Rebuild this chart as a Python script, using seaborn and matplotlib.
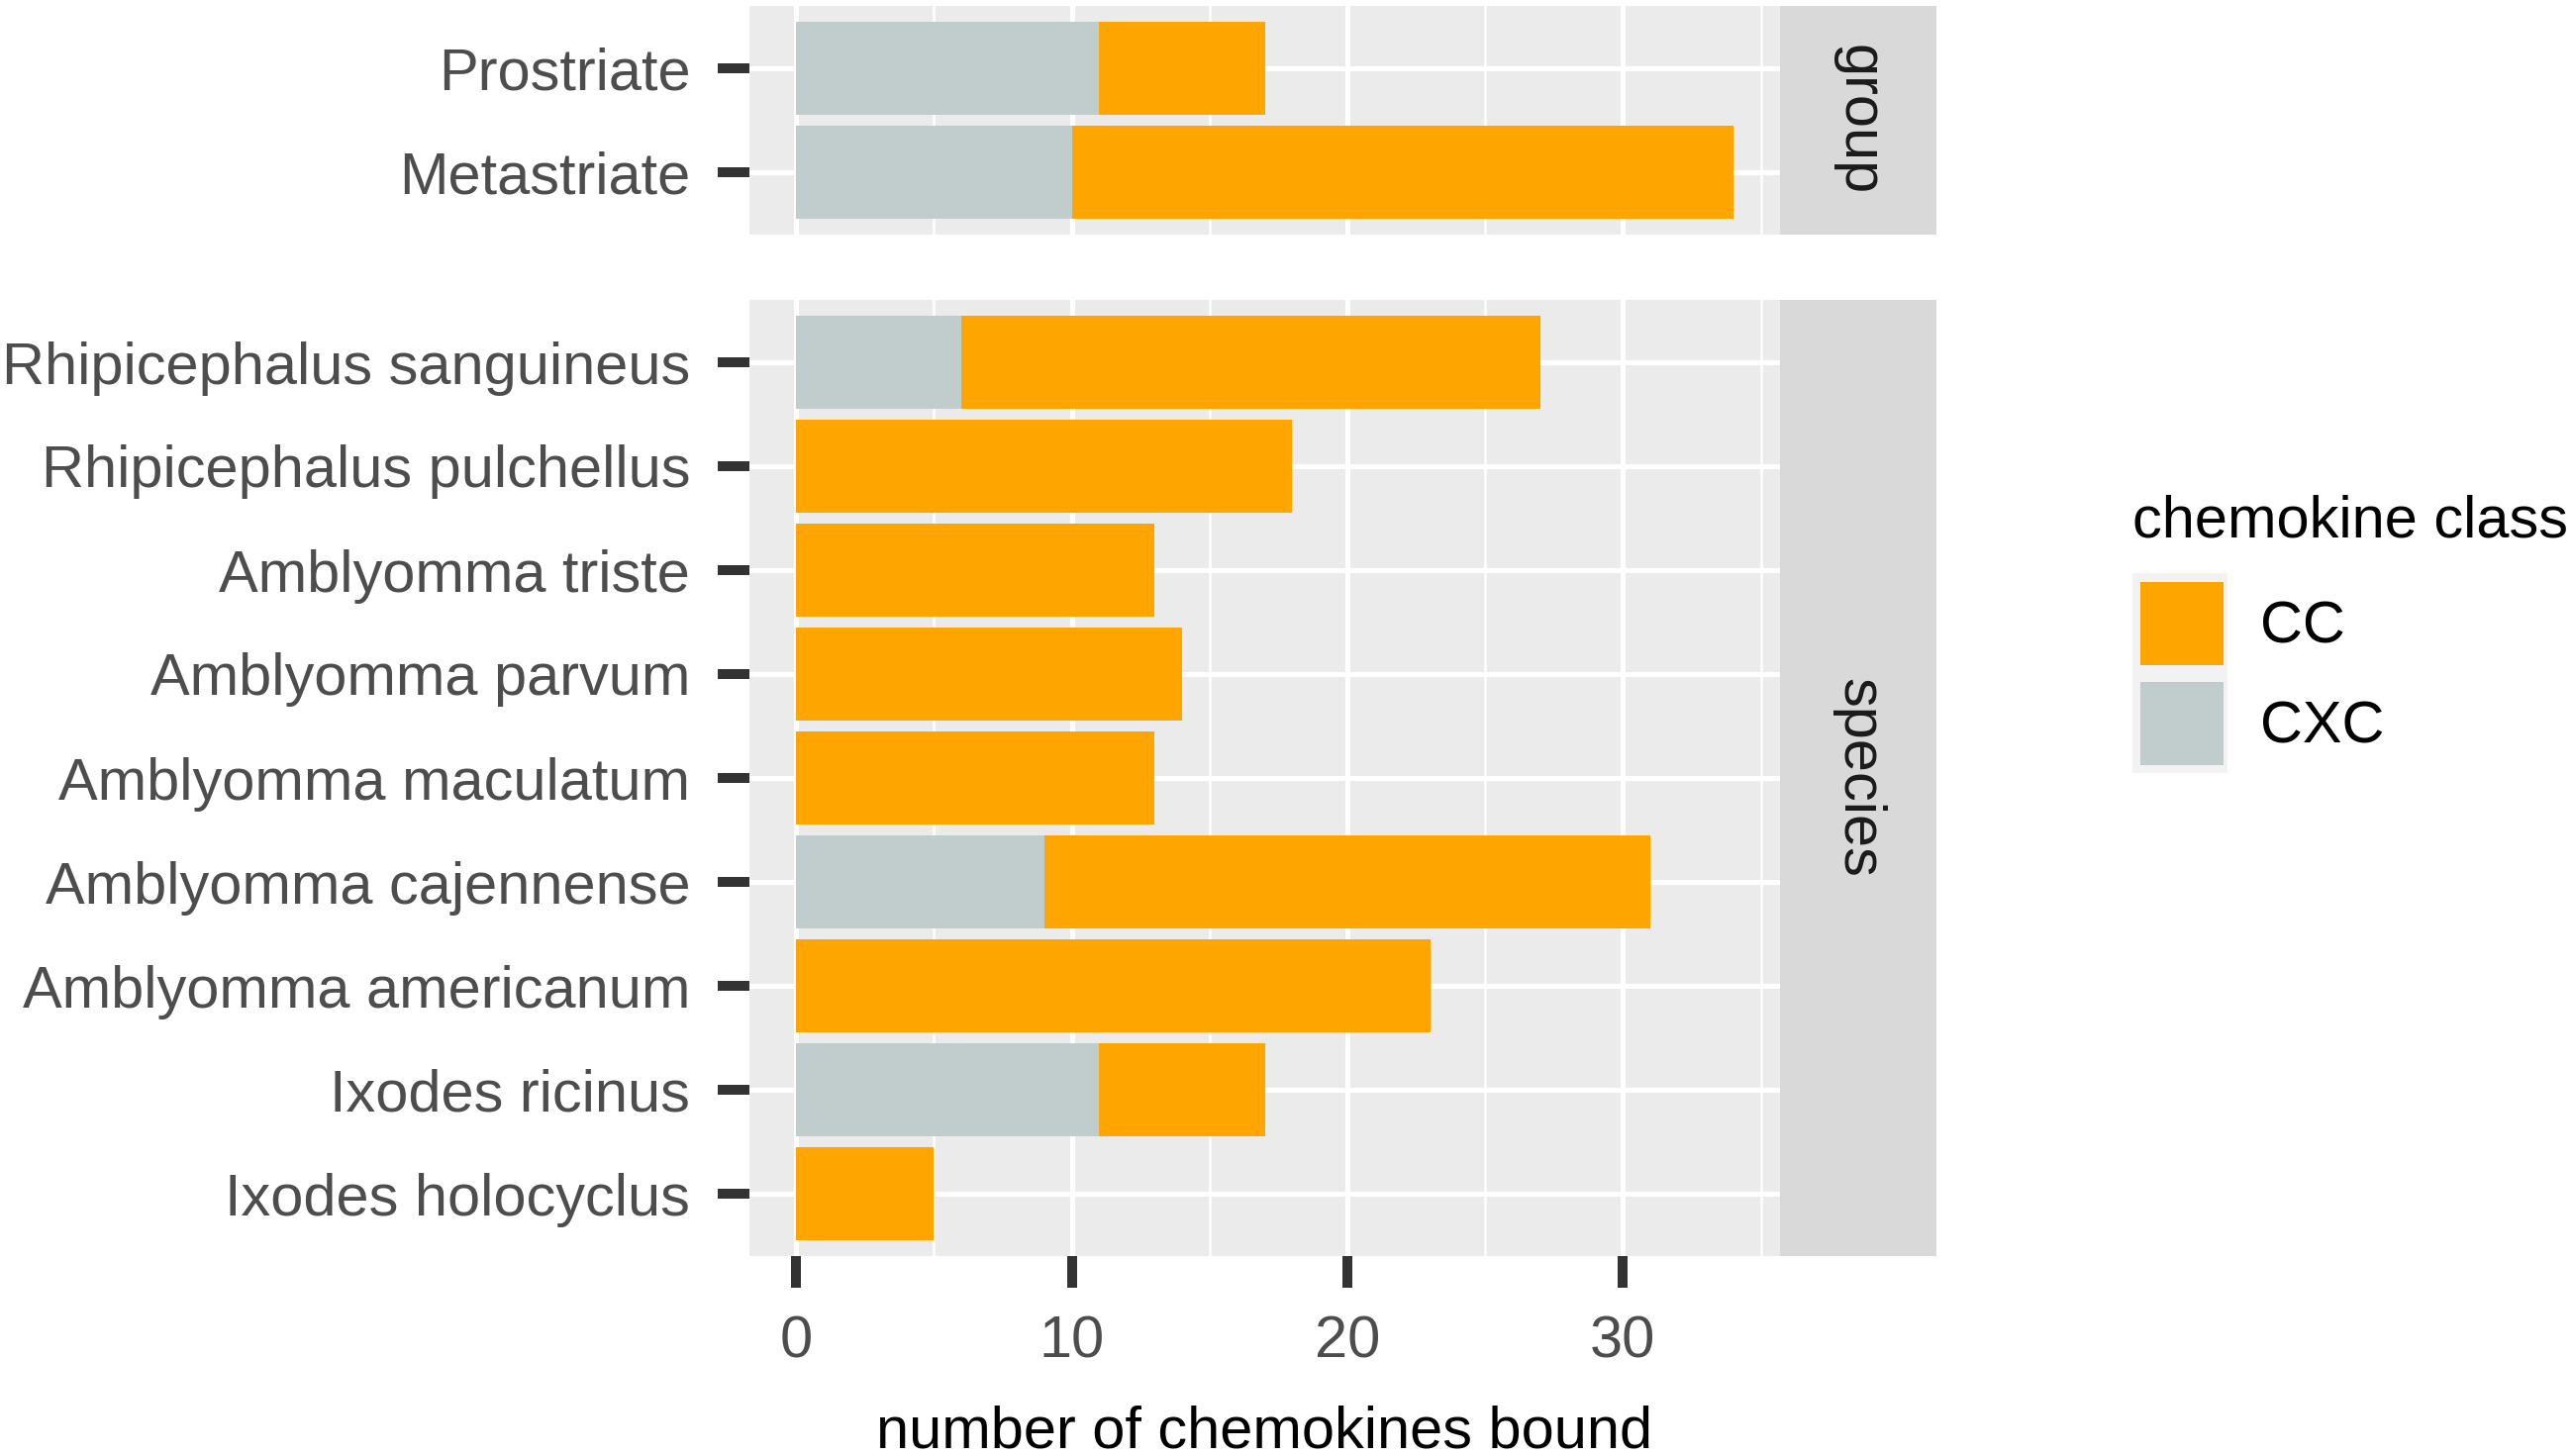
import matplotlib
matplotlib.use("Agg")
import matplotlib.pyplot as plt
from matplotlib.patches import Rectangle
from matplotlib.ticker import MultipleLocator
import seaborn as sns
import pandas as pd

# data, listed top to bottom as shown
group_names = ["Prostriate", "Metastriate"]
group_cxc = [11, 10]
group_cc = [6, 24]

species_names = ["Rhipicephalus sanguineus", "Rhipicephalus pulchellus",
                 "Amblyomma triste", "Amblyomma parvum", "Amblyomma maculatum",
                 "Amblyomma cajennense", "Amblyomma americanum",
                 "Ixodes ricinus", "Ixodes holocyclus"]
species_cxc = [6, 0, 0, 0, 0, 9, 0, 11, 0]
species_cc = [21, 18, 13, 14, 13, 22, 23, 6, 5]

classes = ["CC", "CXC"]
ORANGE = "#FFA500"
GREY = "#C1CDCD"

sns.set_style("darkgrid", {"axes.facecolor": "#EBEBEB", "grid.color": "white"})
plt.rcParams['font.family'] = ['Liberation Sans', 'DejaVu Sans']

FS = 42.8
W, H = 2598, 1471
fig = plt.figure(figsize=(W / 100, H / 100), dpi=100)


def px_axes(x0, y0, x1, y1):
    return fig.add_axes([x0 / W, 1 - y1 / H, (x1 - x0) / W, (y1 - y0) / H])


def draw_panel(ax, names, cc, cxc, show_x):
    df = pd.DataFrame({"name": names, "cc": cc, "cxc": cxc})
    df["total"] = df["cc"] + df["cxc"]
    sns.barplot(data=df, x="total", y="name", color=ORANGE, width=0.9,
                saturation=1, linewidth=0, errorbar=None, ax=ax)
    sns.barplot(data=df, x="cxc", y="name", color=GREY, width=0.9,
                saturation=1, linewidth=0, errorbar=None, ax=ax)
    ax.set_xlim(-1.7, 35.7)
    ax.set_ylim(len(names) - 1 + 0.6, -0.6)
    ax.set_xlabel("")
    ax.set_ylabel("")
    ax.set_axisbelow(True)
    ax.xaxis.set_major_locator(MultipleLocator(10))
    ax.xaxis.set_minor_locator(MultipleLocator(5))
    ax.grid(True, which="major", axis="both", color="white", lw=3.6)
    ax.grid(True, which="minor", axis="x", color="white", lw=1.8)
    for s in ax.spines.values():
        s.set_visible(False)
    ax.tick_params(axis="y", which="major", length=23, width=7.2, color="#333333",
                   labelcolor="#4D4D4D", labelsize=FS, pad=20, left=True)
    ax.tick_params(which="minor", length=0)
    if show_x:
        ax.tick_params(axis="x", which="major", length=23, width=7.2, color="#333333",
                       labelcolor="#4D4D4D", labelsize=FS, pad=20, bottom=True)
    else:
        ax.tick_params(axis="x", which="major", length=0, labelbottom=False)


def draw_strip(x0, y0, x1, y1, label):
    sax = px_axes(x0, y0, x1, y1)
    sax.set_facecolor("#D9D9D9")
    sax.set_xticks([])
    sax.set_yticks([])
    sax.grid(False)
    for s in sax.spines.values():
        s.set_visible(False)
    sax.text(0.5, 0.5, label, rotation=270, ha="center", va="center",
             fontsize=FS, color="#1A1A1A", transform=sax.transAxes)


ax_top = px_axes(757, 6, 1798, 237)
draw_panel(ax_top, group_names, group_cc, group_cxc, show_x=False)
draw_strip(1798, 6, 1956, 237, "group")

ax_bot = px_axes(757, 303, 1798, 1269)
draw_panel(ax_bot, species_names, species_cc, species_cxc, show_x=True)
draw_strip(1798, 303, 1956, 1269, "species")

fig.text(1277 / W, 1 - 1447 / H, "number of chemokines bound", ha="center",
         va="center", fontsize=FS, color="black")

# legend
fig.text(2154 / W, 1 - 527 / H, "chemokine class", ha="left", va="center",
         fontsize=FS, color="black")
fig.patches.append(Rectangle((2154 / W, 1 - 781 / H), 96 / W, 202 / H,
                             transform=fig.transFigure, facecolor="#F2F2F2",
                             edgecolor="none"))
for i, (lab, col) in enumerate(zip(classes, [ORANGE, GREY])):
    y0 = 588 + i * 101
    fig.patches.append(Rectangle((2162 / W, 1 - (y0 + 84) / H), 84 / W, 84 / H,
                                 transform=fig.transFigure, facecolor=col,
                                 edgecolor="none"))
    fig.text(2283 / W, 1 - (y0 + 46) / H, lab, ha="left", va="center",
             fontsize=FS, color="black")

fig.savefig("out.png", dpi=100, facecolor="white")
